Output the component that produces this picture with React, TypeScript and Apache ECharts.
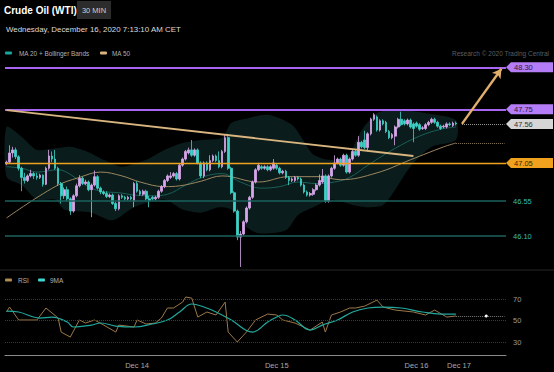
import React, { useEffect, useRef } from "react";
import * as echarts from "echarts";

const FONT = "'Liberation Sans', Arial, Helvetica, sans-serif";

const categoryCount = 165;
const tickIndex = [43, 89, 135, 149];
const tickLabels = ["Dec 14", "Dec 15", "Dec 16", "Dec 17"];

// [open, close, low, high]
const candles: number[][] = [
  [47.04, 47.06, 47.02, 47.08], [47.06, 47.18, 47.04, 47.28], [47.18, 47.22, 47.12, 47.26], [47.22, 47.13, 47.1, 47.25],
  [47.13, 46.98, 46.95, 47.15], [46.98, 46.86, 46.68, 47.0], [46.86, 46.82, 46.78, 46.92], [46.82, 46.88, 46.8, 46.9],
  [46.88, 46.91, 46.86, 46.96], [46.91, 46.88, 46.84, 46.93], [46.88, 46.86, 46.83, 46.92], [46.86, 46.89, 46.84, 46.91],
  [46.89, 46.77, 46.74, 46.9], [46.77, 46.98, 46.76, 47.0], [46.98, 47.14, 46.96, 47.22], [47.14, 47.1, 47.06, 47.2],
  [47.1, 46.98, 46.96, 47.22], [46.98, 46.78, 46.75, 47.0], [46.78, 46.62, 46.52, 46.8], [46.62, 46.7, 46.58, 46.73],
  [46.7, 46.58, 46.55, 46.74], [46.58, 46.42, 46.37, 46.6], [46.42, 46.62, 46.4, 46.64], [46.62, 46.75, 46.6, 46.78],
  [46.75, 46.85, 46.73, 46.89], [46.85, 46.78, 46.76, 46.87], [46.78, 46.8, 46.76, 46.83], [46.8, 46.7, 46.68, 46.82],
  [46.7, 46.76, 46.34, 46.78], [46.76, 46.87, 46.74, 46.95], [46.87, 46.72, 46.7, 46.89], [46.72, 46.67, 46.64, 46.74],
  [46.67, 46.65, 46.63, 46.69], [46.65, 46.61, 46.59, 46.68], [46.61, 46.63, 46.59, 46.65], [46.63, 46.52, 46.5, 46.65],
  [46.52, 46.45, 46.42, 46.54], [46.45, 46.62, 46.43, 46.64], [46.62, 46.6, 46.58, 46.64], [46.6, 46.58, 46.56, 46.62],
  [46.58, 46.6, 46.56, 46.62], [46.6, 46.58, 46.56, 46.62], [46.55, 46.78, 46.47, 46.8], [46.78, 46.68, 46.66, 46.81],
  [46.68, 46.64, 46.62, 46.7], [46.64, 46.68, 46.62, 46.7], [46.68, 46.58, 46.56, 46.7], [46.58, 46.56, 46.47, 46.62],
  [46.6, 46.58, 46.56, 46.62], [46.58, 46.6, 46.56, 46.62], [46.6, 46.68, 46.58, 46.7], [46.68, 46.74, 46.66, 46.76],
  [46.74, 46.82, 46.72, 46.84], [46.82, 46.88, 46.8, 46.9], [46.86, 46.88, 46.84, 46.93], [46.88, 46.91, 46.86, 46.93],
  [46.91, 46.84, 46.82, 46.93], [46.84, 47.02, 46.82, 47.04], [47.02, 47.1, 47.0, 47.12], [47.1, 47.2, 47.08, 47.22],
  [47.18, 47.22, 47.16, 47.25], [47.22, 47.15, 47.13, 47.35], [47.15, 47.22, 47.13, 47.24], [47.22, 47.05, 47.03, 47.24],
  [47.05, 46.88, 46.85, 47.07], [46.88, 47.05, 46.85, 47.07], [47.05, 46.96, 46.94, 47.07], [46.96, 47.08, 46.94, 47.15],
  [47.08, 47.14, 47.06, 47.16], [47.14, 47.08, 47.06, 47.16], [47.08, 47.0, 46.98, 47.2], [47.0, 47.2, 46.98, 47.22],
  [47.2, 47.38, 47.18, 47.42], [47.38, 46.98, 46.96, 47.4], [46.98, 46.66, 46.64, 47.0], [46.66, 46.42, 46.4, 46.68],
  [46.42, 46.08, 46.04, 46.44], [46.08, 46.12, 45.69, 46.16], [46.12, 46.28, 46.1, 46.3], [46.28, 46.46, 46.26, 46.48],
  [46.46, 46.6, 46.44, 46.62], [46.6, 46.8, 46.58, 46.82], [46.8, 46.96, 46.78, 46.98], [46.96, 47.02, 46.94, 47.05],
  [47.0, 46.98, 46.96, 47.02], [46.98, 47.0, 46.96, 47.02], [47.0, 46.96, 46.94, 47.02], [46.96, 47.0, 46.94, 47.02],
  [46.98, 47.05, 46.96, 47.1], [47.02, 46.98, 46.96, 47.04], [46.98, 46.92, 46.9, 47.0], [46.92, 46.94, 46.9, 46.96],
  [46.94, 46.86, 46.84, 46.96], [46.86, 46.82, 46.76, 46.88], [46.82, 46.84, 46.8, 46.86], [46.82, 46.86, 46.8, 46.88],
  [46.86, 46.84, 46.82, 46.88], [46.84, 46.76, 46.74, 46.86], [46.76, 46.67, 46.65, 46.78], [46.67, 46.63, 46.61, 46.69],
  [46.63, 46.65, 46.61, 46.67], [46.64, 46.7, 46.62, 46.72], [46.7, 46.76, 46.68, 46.78], [46.76, 46.82, 46.74, 46.9],
  [46.8, 46.88, 46.78, 46.97], [46.88, 46.55, 46.53, 46.9], [46.55, 46.88, 46.53, 46.9], [46.88, 46.98, 46.86, 47.0],
  [46.98, 47.05, 46.96, 47.15], [47.05, 47.1, 47.03, 47.12], [47.1, 47.02, 47.0, 47.12], [47.02, 47.15, 47.0, 47.17],
  [47.15, 46.93, 46.91, 47.17], [46.93, 47.1, 46.91, 47.12], [47.1, 47.2, 47.08, 47.22], [47.2, 47.15, 47.13, 47.22],
  [47.15, 47.32, 47.13, 47.4], [47.32, 47.26, 47.24, 47.34], [47.35, 47.25, 47.23, 47.47], [47.25, 47.43, 47.2, 47.45],
  [47.43, 47.62, 47.41, 47.64], [47.62, 47.68, 47.6, 47.7], [47.65, 47.48, 47.46, 47.67], [47.48, 47.6, 47.46, 47.62],
  [47.6, 47.56, 47.54, 47.62], [47.58, 47.46, 47.44, 47.6], [47.46, 47.38, 47.36, 47.48], [47.38, 47.42, 47.36, 47.44],
  [47.4, 47.52, 47.28, 47.54], [47.52, 47.62, 47.5, 47.64], [47.62, 47.55, 47.53, 47.72], [47.6, 47.56, 47.54, 47.62],
  [47.56, 47.61, 47.54, 47.63], [47.61, 47.52, 47.5, 47.63], [47.56, 47.5, 47.32, 47.58], [47.57, 47.53, 47.51, 47.59],
  [47.55, 47.49, 47.47, 47.57], [47.5, 47.51, 47.48, 47.53], [47.5, 47.55, 47.48, 47.57], [47.55, 47.58, 47.53, 47.6],
  [47.58, 47.62, 47.56, 47.64], [47.62, 47.58, 47.56, 47.64], [47.58, 47.53, 47.51, 47.6], [47.53, 47.5, 47.48, 47.55],
  [47.52, 47.53, 47.5, 47.55], [47.52, 47.56, 47.5, 47.58], [47.56, 47.55, 47.53, 47.58], [47.54, 47.57, 47.52, 47.59],
  [47.57, 47.56, 47.54, 47.59],
];

// [candle index, value]
const ma50Points = [
  [0, 46.33], [16, 46.74], [24, 46.86], [31, 46.93], [38, 46.88], [44, 46.8], [52, 46.74], [57, 46.75],
  [64, 46.81], [71, 46.88], [83, 46.8], [93, 46.87], [103, 46.87], [110, 46.83], [122, 46.92], [133, 47.09],
  [144, 47.26], [148, 47.31],
];
const ma20Points = [
  [0, 47.0], [5, 46.98], [10, 46.93], [17, 46.96], [21, 46.9], [26, 46.76], [31, 46.68], [37, 46.66],
  [42, 46.63], [48, 46.62], [53, 46.64], [59, 46.76], [65, 46.87], [71, 46.91], [77, 46.8], [84, 46.72],
  [90, 46.74], [96, 46.8], [102, 46.78], [108, 46.8], [113, 46.86], [119, 47.02], [128, 47.24], [136, 47.4],
  [143, 47.49], [148, 47.52],
];
const bandUpper = [
  [0, 47.52], [5, 47.39], [10, 47.22], [16, 47.24], [21, 47.26], [27, 47.19], [32, 47.09], [38, 47.0],
  [46, 47.09], [52, 47.22], [58, 47.31], [64, 47.35], [71, 47.38], [74, 47.57], [78, 47.62], [86, 47.68],
  [94, 47.55], [98, 47.33], [101, 47.16], [106, 47.09], [112, 47.11], [117, 47.48], [122, 47.7], [128, 47.74],
  [138, 47.7], [148, 47.61],
];
const bandLower = [
  [0, 46.87], [5, 46.76], [10, 46.57], [16, 46.57], [19, 46.44], [28, 46.4], [35, 46.3], [42, 46.47],
  [52, 46.57], [58, 46.44], [64, 46.4], [70, 46.47], [74, 46.44], [78, 46.24], [83, 46.13], [92, 46.17],
  [96, 46.37], [101, 46.47], [107, 46.57], [114, 46.5], [119, 46.47], [124, 46.5], [128, 46.7], [133, 47.0],
  [140, 47.26], [148, 47.35],
];

const rsiPoints = [
  [0, 58], [1, 62.6], [4, 50.6], [10, 50.6], [13, 61.7], [17, 52.4], [18, 39.4], [21, 34.8], [24, 50.6],
  [26, 47.8], [29, 50.6], [32, 45.9], [36, 39.4], [37, 45.9], [42, 44.1], [43, 50.6], [46, 46.9], [49, 47.8],
  [51, 52.4], [53, 61.7], [55, 61.7], [58, 67.2], [59, 71.9], [61, 70.9], [63, 53.3], [66, 58], [69, 55.2],
  [72, 67.2], [73, 39.4], [76, 30.2], [79, 39.4], [82, 50.6], [86, 56.1], [89, 55.2], [91, 50.6], [95, 47.8],
  [100, 41.3], [104, 48.7], [105, 39.4], [107, 55.2], [110, 58], [113, 61.7], [115, 61.7], [118, 63.5],
  [122, 69], [124, 62.6], [128, 59.8], [134, 58], [138, 55.2], [141, 59.8], [145, 53.3], [148, 54.3],
];
const rsiMaPoints = [
  [0, 58.9], [4, 58], [11, 52.4], [15, 53.3], [20, 48.7], [22, 44.1], [28, 45.9], [31, 47.8], [36, 45],
  [42, 44.1], [48, 46.9], [53, 50.6], [57, 58], [61, 65.4], [65, 62.6], [69, 58], [74, 50.6], [81, 39.4],
  [86, 48.7], [89, 53.3], [91, 55.2], [95, 50.6], [100, 41.3], [104, 45.9], [109, 50.6], [114, 58],
  [119, 61.7], [124, 62.6], [130, 61.7], [137, 58], [143, 56.1], [148, 56.1],
];
const rsiLevels = [70, 50, 30];
const rsiLast = 54.3;

const purpleLevels = [48.3, 47.75];
const orangeLevel = 47.05;
const tealLevels = [46.55, 46.1];
const lastPrice = 47.56;
const ma50Last = 47.31;
const trendLine = [[0, 47.74], [134, 47.14]];
const arrowLine = [[150, 47.56], [163, 48.28]];

const GRID_LEFT = 5;
const GRID_W = 501;
const GRID_RIGHT_X = GRID_LEFT + GRID_W;

const C_UP = "#d7a6ea";
const C_DOWN = "#3fd3c8";
const C_PURPLE = "#a866f0";
const C_PURPLE_TAG = "#b47cf6";
const C_ORANGE = "#f0a21e";
const C_TEAL_LINE = "#1b625c";
const C_TEAL_TEXT = "#38bcb2";
const C_TAN = "#d9b57f";

export default function App() {
  const ref = useRef<HTMLDivElement>(null);
  useEffect(() => {
    document.body.style.margin = "0";
    document.body.style.background = "#000";
    const chart = echarts.init(ref.current!, undefined, { renderer: "svg" });
    const categories = Array.from({ length: categoryCount }, (_, i) => String(i));
    const hLine = (v: number, color: string, width: number) => ({
      yAxis: v,
      lineStyle: { color, width, type: "solid" },
      label: { show: false },
    });
    const option: any = {
      animation: false,
      backgroundColor: "#000",
      grid: [
        { left: GRID_LEFT, top: 40.5, width: GRID_W, height: 229.5 },
        { left: GRID_LEFT, top: 279.6, width: GRID_W, height: 75.6 },
      ],
      xAxis: [
        { type: "category", gridIndex: 0, data: categories, show: false, boundaryGap: true },
        {
          type: "category",
          gridIndex: 1,
          data: categories,
          boundaryGap: true,
          axisLine: { show: true, lineStyle: { color: "#8a8a8a", width: 1 } },
          axisTick: { show: false },
          splitLine: { show: false },
          axisLabel: {
            interval: 0,
            color: "#a8a8a8",
            fontSize: 7.5,
            fontFamily: FONT,
            margin: 6,
            formatter: (v: string) => {
              const k = tickIndex.indexOf(Number(v));
              return k >= 0 ? tickLabels[k] : "";
            },
          },
        },
      ],
      yAxis: [
        { type: "value", gridIndex: 0, min: 45.65, max: 48.65, show: false, splitLine: { show: false } },
        { type: "value", gridIndex: 1, min: 18, max: 88, show: false, splitLine: { show: false } },
      ],
      series: [
        {
          type: "custom",
          name: "band",
          xAxisIndex: 0,
          yAxisIndex: 0,
          silent: true,
          z: 1,
          data: [[0, bandUpper[0][1]]],
          renderItem: (_params: any, api: any) => {
            const top = bandUpper.map((p) => api.coord(p));
            const bot = bandLower.slice().reverse().map((p) => api.coord(p));
            return {
              type: "polygon",
              shape: { points: top.concat(bot), smooth: 0.25 },
              style: { fill: "#0a1d1c", stroke: null },
            };
          },
        },
        {
          type: "line",
          name: "MA 20",
          xAxisIndex: 0,
          yAxisIndex: 0,
          data: ma20Points,
          smooth: 0.4,
          showSymbol: false,
          z: 2,
          lineStyle: { color: "#1b5f5a", width: 1 },
        },
        {
          type: "line",
          name: "MA 50",
          xAxisIndex: 0,
          yAxisIndex: 0,
          data: ma50Points,
          smooth: 0.4,
          showSymbol: false,
          z: 2,
          lineStyle: { color: "#9c8660", width: 1 },
          markLine: {
            silent: true,
            symbol: ["none", "none"],
            label: { show: false },
            data: [
              ...purpleLevels.map((v) => hLine(v, C_PURPLE, 2)),
              hLine(orangeLevel, C_ORANGE, 1.3),
              ...tealLevels.map((v) => hLine(v, C_TEAL_LINE, 1.6)),
              [
                { coord: [148, ma50Last], lineStyle: { color: "#8a7a60", width: 1, type: "dotted" } },
                { coord: [categoryCount - 1, ma50Last] },
              ],
              [
                { coord: [150, lastPrice], lineStyle: { color: "#9a9a9a", width: 1, type: "dotted" } },
                { coord: [categoryCount - 1, lastPrice] },
              ],
            ],
          },
        },
        {
          type: "candlestick",
          name: "WTI",
          xAxisIndex: 0,
          yAxisIndex: 0,
          data: candles,
          barWidth: 2.2,
          z: 3,
          itemStyle: {
            color: C_UP,
            color0: C_DOWN,
            borderColor: C_UP,
            borderColor0: C_DOWN,
            borderWidth: 0.8,
          },
          markLine: {
            silent: true,
            symbol: ["none", "none"],
            label: { show: false },
            data: [
              [
                { coord: trendLine[0], lineStyle: { color: C_TAN, width: 1.8, type: "solid" } },
                { coord: trendLine[1] },
              ],
              [
                {
                  coord: arrowLine[0],
                  symbol: "none",
                  lineStyle: { color: "#e2ae6c", width: 2.4, type: "solid" },
                },
                { coord: arrowLine[1], symbol: "arrow", symbolSize: [8, 9] },
              ],
            ],
          },
        },
        {
          type: "line",
          name: "RSI",
          xAxisIndex: 1,
          yAxisIndex: 1,
          data: rsiPoints,
          showSymbol: false,
          lineStyle: { color: "#9c784a", width: 1 },
          z: 2,
          markLine: {
            silent: true,
            symbol: ["none", "none"],
            data: [
              ...rsiLevels.map((v) => ({
                yAxis: v,
                lineStyle: { color: "#3a3a3a", width: 1, type: "dotted" },
                label: {
                  show: true,
                  position: "end",
                  distance: 7,
                  formatter: String(v),
                  color: "#9a9a9a",
                  fontSize: 7.5,
                  fontFamily: FONT,
                },
              })),
              [
                {
                  coord: [148, rsiLast],
                  lineStyle: { color: "#777", width: 1, type: "dotted" },
                  label: { show: false },
                },
                { coord: [categoryCount - 1, rsiLast] },
              ],
            ],
          },
          markPoint: {
            silent: true,
            symbol: "circle",
            symbolSize: 3,
            label: { show: false },
            itemStyle: { color: "#fff" },
            data: [{ coord: [158, rsiLast] }],
          },
        },
        {
          type: "line",
          name: "9MA",
          xAxisIndex: 1,
          yAxisIndex: 1,
          data: rsiMaPoints,
          smooth: 0.4,
          showSymbol: false,
          lineStyle: { color: "#22a99d", width: 1.2 },
          z: 3,
        },
      ],
    };
    chart.setOption(option);

    const yOf = (v: number) => chart.convertToPixel({ yAxisIndex: 0 }, v) as number;
    const txt = (x: number, y: number, text: string, fill: string, font: string, align = "left") => ({
      type: "text",
      x,
      y,
      silent: true,
      style: { text, fill, font, align, verticalAlign: "middle" },
    });
    const tag = (v: number, fill: string, textFill: string) => {
      const y = yOf(v);
      const x0 = GRID_RIGHT_X;
      return [
        {
          type: "polygon",
          silent: true,
          shape: { points: [[x0, y], [x0 + 5, y - 5], [553, y - 5], [553, y + 5], [x0 + 5, y + 5]] },
          style: { fill },
        },
        txt(x0 + 8, y + 0.5, v.toFixed(2), textFill, `7.5px ${FONT}`),
      ];
    };
    const graphic: any[] = [
      txt(4, 10, "Crude Oil (WTI)", "#ffffff", `bold 10px ${FONT}`),
      { type: "rect", silent: true, shape: { x: 77, y: 1, width: 34, height: 18 }, style: { fill: "#2c2c2c" } },
      txt(94, 10.5, "30 MIN", "#cfcfcf", `7.5px ${FONT}`, "center"),
      txt(6, 29, "Wednesday, December 16, 2020 7:13:10 AM CET", "#dcdcdc", `7.9px ${FONT}`),
      { type: "rect", silent: true, shape: { x: 5, y: 51.5, width: 7, height: 3, r: 1 }, style: { fill: "#16a89c" } },
      txt(19, 53, "MA 20 + Bollinger Bands", "#b0b0b0", `6.4px ${FONT}`),
      { type: "rect", silent: true, shape: { x: 100, y: 51.5, width: 7, height: 3, r: 1 }, style: { fill: "#d8b47c" } },
      txt(112, 53, "MA 50", "#b0b0b0", `6.4px ${FONT}`),
      txt(549, 53, "Research \u00a9 2020 Trading Central", "#5e5e5e", `6.5px ${FONT}`, "right"),
      { type: "line", silent: true, shape: { x1: 0, y1: 270, x2: 554, y2: 270 }, style: { stroke: "#262626", lineWidth: 1 } },
      { type: "rect", silent: true, shape: { x: 5, y: 278.5, width: 7, height: 3, r: 1 }, style: { fill: "#b08a50" } },
      txt(18, 280, "RSI", "#b0b0b0", `6.5px ${FONT}`),
      { type: "rect", silent: true, shape: { x: 38, y: 278.5, width: 7, height: 3, r: 1 }, style: { fill: "#3fd6cc" } },
      txt(50, 280, "9MA", "#b0b0b0", `6.5px ${FONT}`),
      ...purpleLevels.flatMap((v) => tag(v, C_PURPLE_TAG, "#2a1840")),
      ...tag(lastPrice, "#d6d6d6", "#333333"),
      ...tag(orangeLevel, C_ORANGE, "#3a2600"),
      ...tealLevels.map((v) => txt(GRID_RIGHT_X + 7, yOf(v) + 0.5, v.toFixed(2), C_TEAL_TEXT, `7.5px ${FONT}`)),
    ];
    chart.setOption({ graphic });
    return () => chart.dispose();
  }, []);
  return (
    <div
      ref={ref}
      style={{ position: "fixed", left: 0, top: 0, width: 554, height: 372, background: "#000" }}
    />
  );
}
